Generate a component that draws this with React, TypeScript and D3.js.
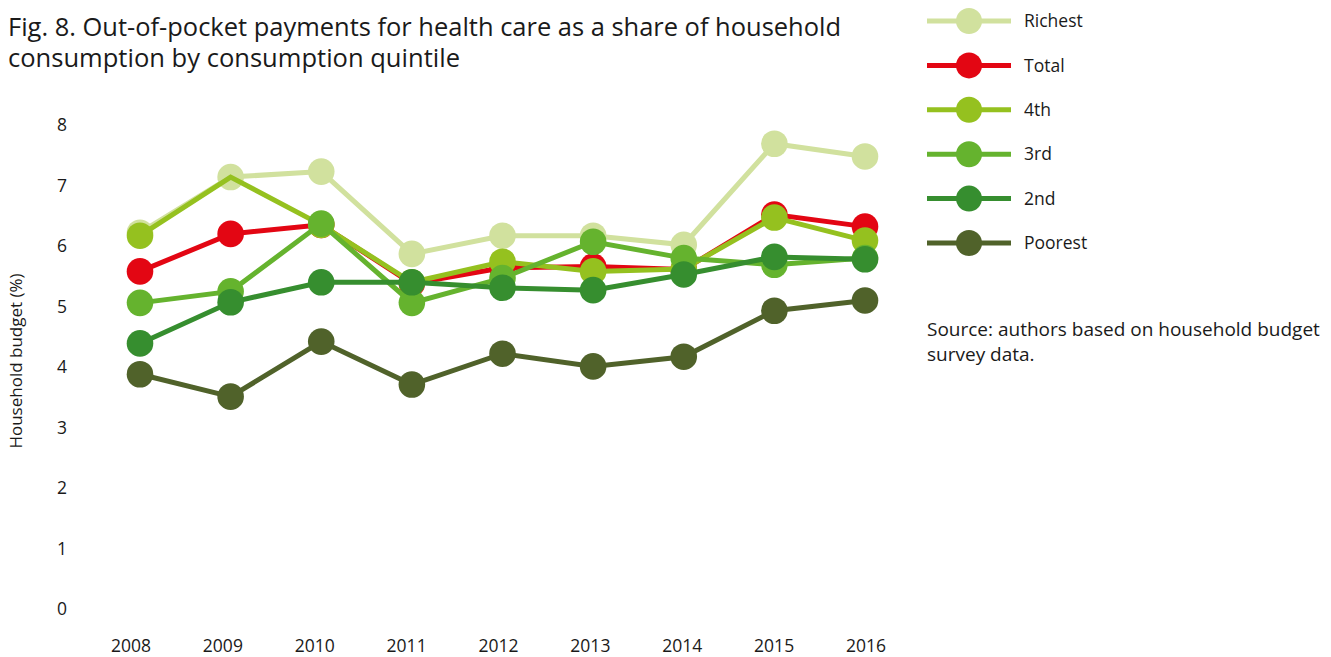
import React from "react";
import * as d3 from "d3";

const years = [2008, 2009, 2010, 2011, 2012, 2013, 2014, 2015, 2016];
const yTicks = [0, 1, 2, 3, 4, 5, 6, 7, 8];

const seriesNames = ["Richest", "Total", "4th", "3rd", "2nd", "Poorest"];
const seriesColors = ["#d1e19e", "#e30613", "#95c11f", "#65b32e", "#368e2f", "#50622a"];

const richest = [6.22, 7.14, 7.23, 5.87, 6.17, 6.17, 6.02, 7.69, 7.48];
const total = [5.58, 6.2, 6.35, 5.38, 5.64, 5.66, 5.61, 6.52, 6.32];
const fourth = [6.17, 7.14, 6.35, 5.4, 5.74, 5.58, 5.62, 6.47, 6.09];
const third = [5.06, 5.25, 6.37, 5.06, 5.47, 6.07, 5.8, 5.69, 5.8];
const second = [4.39, 5.07, 5.4, 5.4, 5.31, 5.27, 5.53, 5.82, 5.78];
const poorest = [3.88, 3.51, 4.42, 3.71, 4.22, 4.01, 4.17, 4.93, 5.1];

const seriesValues = [richest, total, fourth, third, second, poorest];
// points drawn without a marker in the original
const hiddenMarkers: { series: string; year: number }[] = [{ series: "4th", year: 2009 }];

const titleLines = [
  "Fig. 8. Out-of-pocket payments for health care as a share of household",
  "consumption by consumption quintile",
];
const sourceLines = ["Source: authors based on household budget", "survey data."];
const yAxisTitle = "Household budget (%)";

const FONT = "'Open Sans', 'Noto Sans', sans-serif";

export default function App() {
  const W = 1331;
  const H = 657;
  const x = d3.scalePoint<number>().domain(years).range([140, 865]);
  const xLabel = d3.scalePoint<number>().domain(years).range([131, 866]);
  const y = d3.scaleLinear().domain([0, 8]).range([609, 125]);
  const line = d3
    .line<number>()
    .x((_, i) => x(years[i]) as number)
    .y((v) => y(v));

  const legendY = d3.scalePoint<string>().domain(seriesNames).range([21, 243]);

  return (
    <svg
      width={W}
      height={H}
      style={{ position: "absolute", left: 0, top: 0, background: "#fff" }}
      fontFamily={FONT}
    >
      {/* title */}
      <text x={8} y={36} fontSize={25} fill="#1a1a1a" textLength={833} lengthAdjust="spacingAndGlyphs">
        {titleLines[0]}
      </text>
      <text x={8} y={67} fontSize={25} fill="#1a1a1a" textLength={452} lengthAdjust="spacingAndGlyphs">
        {titleLines[1]}
      </text>

      {/* y axis labels */}
      {yTicks.map((t) => (
        <text key={t} x={62} y={y(t)} dy="0.35em" fontSize={17.5} textAnchor="middle" fill="#1a1a1a">
          {t}
        </text>
      ))}
      <text
        transform={`translate(22,${361}) rotate(-90)`}
        fontSize={17}
        textAnchor="middle"
        fill="#1a1a1a"
      >
        {yAxisTitle}
      </text>

      {/* x axis labels */}
      {years.map((yr) => (
        <text key={yr} x={xLabel(yr)} y={652} fontSize={17.5} textAnchor="middle" fill="#1a1a1a">
          {yr}
        </text>
      ))}

      {/* series */}
      {seriesNames.map((name, si) => {
        const vals = seriesValues[si];
        const color = seriesColors[si];
        return (
          <g key={name}>
            <path d={line(vals) || ""} fill="none" stroke={color} strokeWidth={5} strokeLinejoin="miter" />
            {vals.map((v, i) =>
              hiddenMarkers.some((h) => h.series === name && h.year === years[i]) ? null : (
                <circle key={i} cx={x(years[i])} cy={y(v)} r={13.3} fill={color} />
              )
            )}
          </g>
        );
      })}

      {/* legend */}
      {seriesNames.map((name, si) => {
        const ly = legendY(name) as number;
        return (
          <g key={name}>
            <line x1={927} x2={1011} y1={ly} y2={ly} stroke={seriesColors[si]} strokeWidth={5} />
            <circle cx={969} cy={ly} r={13} fill={seriesColors[si]} />
            <text x={1024} y={ly} dy="0.35em" fontSize={17.5} fill="#1a1a1a">
              {name}
            </text>
          </g>
        );
      })}

      {/* source */}
      {sourceLines.map((s, i) => (
        <text key={i} x={927} y={336 + i * 25} fontSize={19} fill="#1a1a1a">
          {s}
        </text>
      ))}
    </svg>
  );
}
